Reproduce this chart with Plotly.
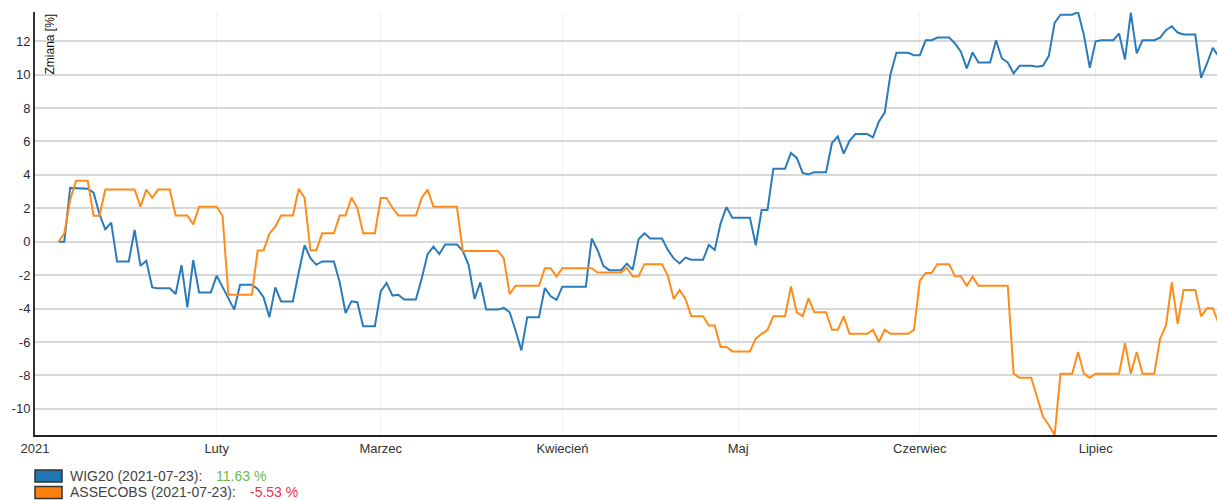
import plotly.graph_objects as go
import pandas as pd

START = pd.Timestamp("2021-01-01")

# dni liczone od 1 stycznia 2021 (wierzcholki linii)
wig20_dni = [4, 5, 6, 9, 10, 11, 12, 13, 14, 16, 17, 18, 19, 20, 21, 23, 24, 25, 26, 27,
             28, 30, 31, 34, 35, 37, 38, 39, 40, 41, 42, 44, 45, 46, 47, 48, 49, 51, 52, 53,
             54, 55, 56, 58, 59, 60, 61, 62, 63, 65, 66, 67, 68, 69, 70, 72, 73, 74, 75, 76,
             77, 79, 80, 81, 82, 83, 84, 86, 87, 88, 89, 90, 94, 95, 96, 97, 98, 100, 101, 102,
             103, 104, 105, 107, 108, 109, 110, 111, 112, 114, 115, 116, 117, 118, 119, 122, 123, 124, 125, 126,
             128, 129, 130, 131, 132, 133, 135, 136, 137, 138, 139, 140, 142, 143, 144, 145, 146, 147, 149, 150,
             151, 152, 153, 154, 156, 157, 158, 159, 160, 161, 163, 164, 165, 166, 167, 168, 170, 171, 172, 173,
             174, 175, 177, 178, 179, 180, 181, 182, 184, 185, 186, 187, 188, 189, 191, 192, 193, 194, 195, 196,
             198, 199, 200, 201, 202, 203]
wig20_zmiana = [0, 0, 3.22, 3.17, 2.93, 1.64, 0.74, 1.14, -1.18, -1.18, 0.70, -1.44, -1.14, -2.73, -2.79, -2.79, -3.13, -1.40, -3.92, -1.10,
                -3.03, -3.03, -2.03, -4.06, -2.57, -2.57, -2.83, -3.32, -4.51, -2.73, -3.57, -3.57, -1.84, -0.21, -0.98, -1.38, -1.18, -1.18, -2.43, -4.26,
                -3.56, -3.62, -5.05, -5.05, -2.97, -2.47, -3.22, -3.17, -3.46, -3.46, -2.19, -0.74, -0.29, -0.74, -0.17, -0.17, -0.55, -1.40, -3.42, -2.43,
                -4.06, -4.06, -3.96, -4.22, -5.31, -6.50, -4.51, -4.51, -2.77, -3.26, -3.48, -2.69, -2.69, 0.19, -0.51, -1.44, -1.70, -1.70, -1.31, -1.68,
                0.15, 0.50, 0.19, 0.19, -0.49, -1.00, -1.30, -0.95, -1.08, -1.08, -0.19, -0.49, 1.10, 2.07, 1.44, 1.44, -0.21, 1.89, 1.89, 4.37,
                4.37, 5.31, 5.01, 4.12, 4.02, 4.16, 4.16, 5.90, 6.30, 5.27, 6.04, 6.44, 6.44, 6.24, 7.18, 7.72, 10.03, 11.30, 11.30, 11.16,
                11.16, 12.05, 12.05, 12.21, 12.21, 11.86, 11.36, 10.37, 11.32, 10.72, 10.72, 12.05, 10.96, 10.72, 10.07, 10.52, 10.52, 10.47, 10.52, 11.10,
                13.09, 13.58, 13.58, 13.74, 12.35, 10.40, 11.99, 12.05, 12.05, 12.45, 10.90, 13.70, 11.26, 12.05, 12.05, 12.21, 12.65, 12.89, 12.51, 12.39,
                12.39, 9.80, 10.66, 11.60, 11.06, 11.63]

asseco_dni = [4, 5, 6, 7, 9, 10, 11, 12, 17, 18, 19, 20, 21, 23, 24, 26, 27, 28, 31, 32,
              33, 37, 38, 39, 40, 41, 42, 44, 45, 46, 47, 48, 49, 51, 52, 53, 54, 55, 56, 58,
              59, 60, 61, 62, 65, 66, 67, 68, 72, 73, 79, 80, 81, 82, 86, 87, 88, 89, 90, 95,
              96, 100, 101, 102, 103, 104, 107, 108, 109, 110, 111, 112, 114, 115, 116, 117, 118, 119, 122, 123,
              124, 125, 126, 128, 129, 130, 131, 132, 133, 135, 136, 137, 138, 139, 142, 143, 144, 145, 146, 149,
              150, 151, 152, 153, 154, 156, 157, 158, 159, 160, 161, 166, 167, 168, 170, 171, 172, 173, 174, 175,
              177, 178, 179, 180, 181, 185, 186, 187, 188, 189, 191, 192, 193, 194, 195, 196, 198, 199, 200, 201,
              202, 203]
asseco_zmiana = [0, 0.49, 2.5, 3.65, 3.65, 1.55, 1.55, 3.12, 3.12, 2.10, 3.12, 2.63, 3.12, 3.12, 1.57, 1.57, 1.04, 2.09, 2.09, 1.55,
                 -3.17, -3.17, -0.52, -0.52, 0.48, 0.90, 1.57, 1.57, 3.16, 2.63, -0.51, -0.51, 0.50, 0.50, 1.57, 1.57, 2.63, 2.03, 0.50, 0.50,
                 2.61, 2.61, 2.03, 1.57, 1.57, 2.63, 3.12, 2.09, 2.09, -0.55, -0.55, -1.00, -3.13, -2.63, -2.63, -1.58, -1.58, -2.08, -1.58, -1.58,
                 -1.84, -1.84, -1.55, -2.07, -2.07, -1.34, -1.34, -2.04, -3.42, -2.89, -3.42, -4.46, -4.46, -5.01, -5.01, -6.30, -6.30, -6.56, -6.56, -5.80,
                 -5.51, -5.27, -4.46, -4.46, -2.67, -4.22, -4.46, -3.39, -4.22, -4.22, -5.27, -5.27, -4.46, -5.51, -5.51, -5.27, -6.00, -5.27, -5.51, -5.51,
                 -5.27, -2.33, -1.87, -1.87, -1.34, -1.34, -2.07, -2.07, -2.63, -2.09, -2.63, -2.63, -7.89, -8.14, -8.14, -9.27, -10.46, -10.96, -11.56, -7.89,
                 -7.89, -6.60, -7.89, -8.14, -7.89, -7.89, -6.07, -7.89, -6.60, -7.89, -7.89, -5.80, -5.01, -2.43, -4.91, -2.89, -2.89, -4.46, -3.98, -3.98,
                 -4.91, -5.53]

miesiace = ["2021-01-01", "2021-02-01", "2021-03-01", "2021-04-01", "2021-05-01", "2021-06-01", "2021-07-01"]
miesiace_etykiety = ["2021", "Luty", "Marzec", "Kwiecień", "Maj", "Czerwiec", "Lipiec"]
y_ticks = [-10, -8, -6, -4, -2, 0, 2, 4, 6, 8, 10, 12]
y_etykiety = ["-10", "-8", "-6", "-4", "-2", "0", "2", "4", "6", "8", "10", "12"]

legenda_nazwy = ["WIG20 (2021-07-23):", "ASSECOBS (2021-07-23):"]
legenda_wartosci = ["11.63 %", "-5.53 %"]

KOLOR_WIG = "#2b7bba"
KOLOR_ASSECO = "#ff8c1a"

wig20_daty = [START + pd.Timedelta(days=d) for d in wig20_dni]
asseco_daty = [START + pd.Timedelta(days=d) for d in asseco_dni]

fig = go.Figure()

fig.add_trace(go.Scatter(
    x=wig20_daty, y=wig20_zmiana, mode="lines", name="WIG20",
    line=dict(color=KOLOR_WIG, width=2),
))
fig.add_trace(go.Scatter(
    x=asseco_daty, y=asseco_zmiana, mode="lines", name="ASSECOBS",
    line=dict(color=KOLOR_ASSECO, width=2),
))

# obszar wykresu w pikselach: x 35..1217, y 12..435
L, R, T, B = 35, 1217, 12, 435


def px_x(px):
    return (px - L) / (R - L)


def px_y(py):
    return (B - py) / (B - T)


# legenda pod wykresem
kolory_legendy = ["#1f77b4", "#ff7f0e"]
kolory_wartosci = ["#6cbb4a", "#f0324b"]
pozycje_y = [476, 492.5]
pozycje_wart = [214, 248]
for i in range(2):
    yc = pozycje_y[i]
    fig.add_shape(type="rect", xref="paper", yref="paper",
                  x0=px_x(35), x1=px_x(62), y0=px_y(yc - 6), y1=px_y(yc + 6),
                  fillcolor=kolory_legendy[i], line=dict(color="#333333", width=1.5))
    fig.add_annotation(xref="paper", yref="paper", x=px_x(68), y=px_y(yc),
                       xanchor="left", yanchor="middle", showarrow=False,
                       text=legenda_nazwy[i], font=dict(size=14, color="#444444"))
    fig.add_annotation(xref="paper", yref="paper", x=px_x(pozycje_wart[i]), y=px_y(yc),
                       xanchor="left", yanchor="middle", showarrow=False,
                       text=legenda_wartosci[i], font=dict(size=14, color=kolory_wartosci[i]))

# opis osi Y wewnatrz wykresu
fig.add_annotation(xref="paper", yref="paper", x=0, y=1, xshift=5,
                   xanchor="left", yanchor="top", showarrow=False, textangle=-90,
                   text="Zmiana [%]", font=dict(size=12, color="#111111"))

fig.update_layout(
    width=1217, height=500,
    margin=dict(l=L, r=0, t=T, b=500 - B),
    plot_bgcolor="white", paper_bgcolor="white",
    showlegend=False,
    font=dict(family="Arial, Liberation Sans, sans-serif", size=13, color="#333333"),
    xaxis=dict(
        type="date",
        range=["2021-01-01", "2021-07-21 17:00"],
        tickvals=miesiace, ticktext=miesiace_etykiety,
        showgrid=True, gridcolor="#f1f1f1", gridwidth=1,
        showline=True, linecolor="#222222", linewidth=2,
        ticks="", tickfont=dict(size=13, color="#333333"),
        zeroline=False,
    ),
    yaxis=dict(
        range=[-11.56, 13.74],
        tickvals=y_ticks, ticktext=y_etykiety,
        showgrid=True, gridcolor="#d8d8d8", gridwidth=1.5,
        showline=True, linecolor="#333333", linewidth=2,
        ticks="", tickfont=dict(size=13, color="#2a2a3a"),
        zeroline=False,
    ),
)

# bez domyslnego marginesu strony, zeby wykres zaczynal sie w rogu okna
fig.write_html("out.html", config={"displayModeBar": False},
               post_script="document.body.style.margin='0';")
